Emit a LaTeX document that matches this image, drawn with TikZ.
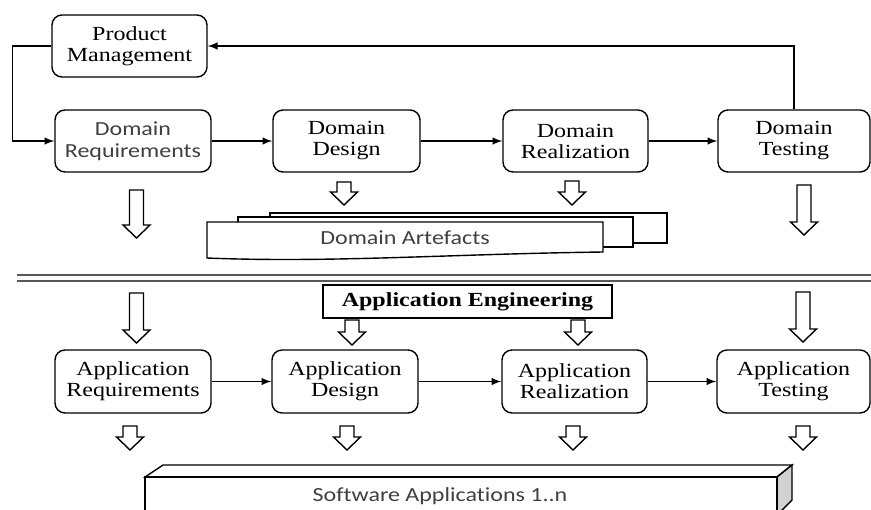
\documentclass[tikz,border=0pt]{standalone}
\usepackage{fontspec}
\setmainfont{Liberation Serif}[FakeStretch=1.2]
\newfontfamily\carlitofont{Carlito}[FakeStretch=1.2, RawFeature=-liga]
\usetikzlibrary{arrows}

% hollow down arrow: x, top, tip
\newcommand{\hollowarrow}[3]{%
\draw[fill=white] (#1-7,#2) -- (#1+7,#2) -- (#1+7,#3-13) -- (#1+13.5,#3-13)
  -- (#1,#3) -- (#1-13.5,#3-13) -- (#1-7,#3-13) -- cycle;}

\begin{document}
\begin{tikzpicture}[>=latex, x=0.5pt, y=-0.5pt, line width=0.7pt,
  box/.style={draw, rounded corners=5pt, minimum height=31pt, align=center,
    font=\fontsize{10}{10.5}\selectfont},
  sansbox/.style={box, font=\carlitofont\fontsize{10}{11}\selectfont, text=black!75},
  sepline/.style={draw=black!65, line width=0.8pt}]

\clip (0,0) rectangle (871,509);

\node[box, minimum width=77.5pt] (pm) at (129.5,46) {Product\\Management};

\node[sansbox, minimum width=78pt] (dreq) at (133,141) {Domain\\Requirements};
\node[box, minimum width=73.5pt] (ddes) at (346.5,141) {Domain\\Design};
\node[box, minimum width=72.5pt] (dreal) at (575.5,141) {Domain\\Realization};
\node[box, minimum width=76pt] (dtest) at (794,141) {Domain\\Testing};

\draw[->] (dreq) -- (ddes);
\draw[->] (ddes) -- (dreal);
\draw[->] (dreal) -- (dtest);
\draw[->] (dtest.north) |- (pm.east);
\draw[->] (pm.west) -- ++(-39,0) |- (dreq.west);

\hollowarrow{136.5}{190}{238}
\hollowarrow{804}{185}{235}
\hollowarrow{344}{182}{205}
\hollowarrow{572}{181}{205}

% domain artefacts
\draw[fill=white] (270,213) rectangle (667,243);
\draw[fill=white] (238,217) rectangle (633,247);
\draw[fill=white] (207,222) -- (603,222) -- (603,252)
  .. controls (450,254) and (330,263) .. (207,258) -- cycle;
\node[font=\carlitofont\fontsize{10}{11}\selectfont, text=black!75] (artefacts) at (405,238) {Domain Artefacts};

\draw[sepline] (17,275) -- (871,275);
\draw[sepline] (17,281) -- (871,281);

\node[draw, minimum width=144.5pt, minimum height=16.5pt, inner sep=0pt,
  font=\fontsize{10}{11}\selectfont\bfseries] (appeng) at (467.5,301.5) {Application Engineering};

\hollowarrow{136.5}{293}{343}
\hollowarrow{803}{292}{342}
\hollowarrow{352}{320}{345}
\hollowarrow{578}{320}{345}

\node[box, minimum width=78pt, minimum height=31.5pt] (areq) at (133,381.5) {Application\\Requirements};
\node[box, minimum width=73pt, minimum height=31.5pt] (ades) at (345,381.5) {Application\\Design};
\node[box, minimum width=72.5pt, minimum height=31.5pt] (areal) at (574.5,381.5) {Application\\Realization};
\node[box, minimum width=76.5pt, minimum height=31.5pt] (atest) at (793.5,381.5) {Application\\Testing};

\draw[->] (areq) -- (ades);
\draw[->] (ades) -- (areal);
\draw[->] (areal) -- (atest);

\hollowarrow{130}{426}{450}
\hollowarrow{347}{426}{450}
\hollowarrow{573}{426}{450}
\hollowarrow{803}{426}{450}

% software applications bar
\draw[fill=white] (145,477) -- (163,465) -- (792,465) -- (777,477) -- cycle;
\draw[fill=black!18] (777,477) -- (792,465) -- (792,500) -- (777,515) -- cycle;
\draw[fill=white] (145,477) rectangle (777,515);
\node[font=\carlitofont\fontsize{10}{11}\selectfont, text=black!75] (apps) at (440,496) {Software Applications 1..n};

\end{tikzpicture}
\end{document}
